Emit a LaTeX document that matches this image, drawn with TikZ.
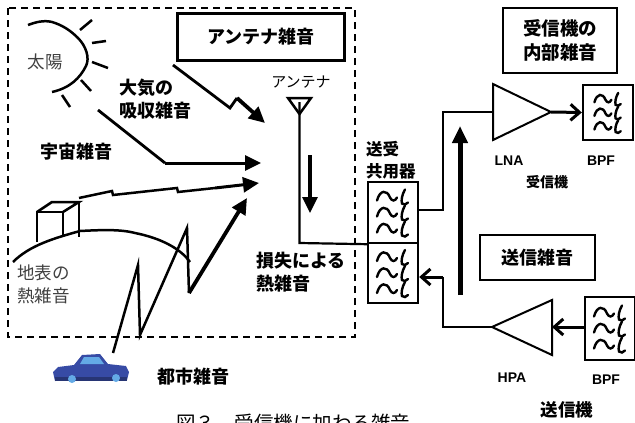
\documentclass[tikz,border=0pt]{standalone}
\usepackage{fontspec}
\setmainfont{Liberation Sans}
\newfontfamily\jp{Noto Sans CJK JP}
\usetikzlibrary{arrows.meta}

\definecolor{carblue}{RGB}{55,75,165}
\definecolor{carlight}{RGB}{100,170,230}

\tikzset{
  jpbold/.style={font=\jp\bfseries\fontsize{18}{23}\selectfont, inner sep=0pt, align=left},
  jpreg/.style={font=\jp\fontsize{17.5}{23}\selectfont, text=black!75, inner sep=0pt, align=left},
  latlabel/.style={font=\bfseries\fontsize{14}{16}\selectfont, inner sep=0pt},
  blockbox/.style={draw, line width=2.4pt, inner sep=0pt, align=center},
  filterbox/.style={draw, line width=2.4pt, inner sep=0pt, minimum width=50pt},
  noisearrow/.style={line width=3pt, -{Triangle[length=16pt,width=15pt]}},
  sigline/.style={line width=2.2pt},
  sigarrow/.style={line width=3pt, -{Straight Barb[length=9pt,width=16pt,line width=3pt]}},
  bpfglyph/.pic={
    \foreach \d in {-16,0,16}{
      \draw[line width=2.4pt, line cap=round]
        (-16,\d+4) .. controls (-13,\d-7) and (-6,\d-7) .. (-3,\d+1)
        .. controls (-1,\d+5) and (2,\d+5) .. (4,\d+1);
      \draw[line width=2.4pt, line cap=round]
        (12,\d-7) .. controls (9,\d-2) and (8,\d+4) .. (9,\d+7)
        .. controls (11,\d+9) and (13,\d+8) .. (15,\d+6);
    }
  }
}

\begin{document}
\begin{tikzpicture}[x=1pt,y=-1pt]
\clip (0,0) rectangle (635,423);

% antenna-side noise region
\draw[line width=2pt, dash pattern=on 7pt off 5pt] (8,8) rectangle (355,337);
\node[blockbox, minimum width=167pt, minimum height=47pt, font=\jp\bfseries\fontsize{18}{23}\selectfont]
  (antnoise) at (261,37) {アンテナ雑音};

% sun
\draw[line width=2.5pt] (28,25) .. controls (36,22) and (44,20) .. (52,22)
  .. controls (62,25) and (70,30) .. (78,38)
  .. controls (86,46) and (90,58) .. (86,66)
  .. controls (80,78) and (70,88) .. (52,92);
\foreach \a/\b in {{(80,30)}/{(92,20)}, {(92,43)}/{(106,41)}, {(92,62)}/{(108,68)}, {(81,80)}/{(91,91)}, {(62,95)}/{(70,107)}}
  \draw[line width=2.5pt] \a -- \b;
\node[jpreg] (sun) at (45,62) {太陽};

% noise labels
\node[jpbold, anchor=west] (atmos) at (119,99) {大気の\\吸収雑音};
\node[jpbold] (cosmic) at (76,152) {宇宙雑音};
\node[jpreg, anchor=west] (ground) at (17,284) {地表の\\熱雑音};
\node[jpbold] (urban) at (193,377) {都市雑音};
\node[jpbold, anchor=west] (loss) at (256,272) {損失による\\熱雑音};

% noise arrows
\coordinate (a1) at (173,65);  \coordinate (a2) at (230,108);
\coordinate (a3) at (237,98);  \coordinate (a4) at (265,123);
\draw[line width=2.8pt] (a1) -- (a2) -- (a3);
\draw[noisearrow, line width=3.8pt] (a3) -- (a4);

\coordinate (c1) at (98,110); \coordinate (c2) at (165,163); \coordinate (c3) at (261,163);
\draw[line width=2.8pt] (c1) -- (c2);
\draw[noisearrow] (c2) -- (c3);

% ground surface with a building
\draw[line width=2.5pt] (13,262) .. controls (30,245) and (55,238) .. (80,231)
  .. controls (100,230) and (120,229) .. (135,233)
  .. controls (160,238) and (180,248) .. (190,262);
\draw[line width=2.5pt] (37,242) -- (37,212) -- (63,212) -- (63,236);
\draw[line width=2.5pt] (37,212) -- (52,202) -- (79,202) -- (63,212);
\draw[line width=2.5pt] (79,202) -- (79,237);
\coordinate (g1) at (79,198); \coordinate (g2) at (112,191); \coordinate (g3) at (113,195);
\coordinate (g4) at (177,188); \coordinate (g5) at (178,192); \coordinate (g6) at (259,183);
\draw[line width=2.5pt] (g1) -- (g2) -- (g3) -- (g4) -- (g5) -- (215,188);
\draw[noisearrow] (215,188) -- (g6);

% urban noise from a car
\coordinate (u1) at (113,353); \coordinate (u2) at (138,265); \coordinate (u3) at (140,335);
\coordinate (u4) at (187,228); \coordinate (u5) at (189,293); \coordinate (u6) at (247,198);
\draw[line width=2.5pt] (u1) -- (u2) -- (u3) -- (u4) -- (u5);
\draw[noisearrow, line width=3.8pt] (u5) -- (u6);

\fill[carblue] (53,372) -- (58,367) -- (74,365) -- (82,355) -- (100,354) -- (108,364)
  -- (126,366) -- (129,372) -- (127,380) -- (55,381) -- cycle;
\fill[carlight] (84,357) -- (99,357) -- (104,364) -- (80,364) -- cycle;
\fill[carblue!70!black] (55,377) -- (127,377) -- (127,381) -- (55,381) -- cycle;
\fill[carlight] (72,379) circle (4);
\fill[carlight] (116,378) circle (4);

% antenna and feed line
\node[font=\jp\fontsize{15}{18}\selectfont, inner sep=0pt] (antlabel) at (301,82) {アンテナ};
\coordinate (antL) at (288,98); \coordinate (antR) at (311,98); \coordinate (antT) at (299.5,114);
\draw[line width=2.5pt, line join=miter] (antL) -- (antR) -- (antT) -- cycle;
\coordinate (feed) at (299.5,102);
\coordinate (feedbend) at (299.5,243);
\draw[noisearrow, line width=3.2pt] (310,155) -- (310,213);

% duplexer
\node[jpbold, font=\jp\bfseries\fontsize{16.5}{22}\selectfont, anchor=west] (duplabel) at (366,160) {送受\\共用器};
\node[filterbox, minimum height=61pt] (dupA) at (393,212.5) {};
\node[filterbox, minimum height=60pt] (dupB) at (393,273) {};
\pic at (dupA.center) {bpfglyph};
\pic at (dupB.center) {bpfglyph};
\draw[sigline] (feed) -- (feedbend) -- (dupA.south west);

% receiver
\node[blockbox, minimum width=114pt, minimum height=65pt, font=\jp\bfseries\fontsize{18.5}{24}\selectfont]
  (rxnoise) at (560,40.5) {受信機の\\内部雑音};
\coordinate (lnaIn) at (493,112);
\coordinate (lnaOut) at (551,112);
\draw[line width=2pt, line join=miter] (493,84) -- (lnaOut) -- (493,140) -- cycle;
\node[filterbox, minimum height=55pt] (rxbpf) at (608,112.5) {};
\pic[scale=0.85] at (rxbpf.center) {bpfglyph};
\draw[sigline] (dupA.east |- 0,210) -- (443,210) -- (443,112) -- (lnaIn);
\draw[sigarrow] (lnaOut) -- (rxbpf.west);
\node[latlabel] (lnalabel) at (509,161) {LNA};
\node[latlabel] (rxbpflabel) at (601,161) {BPF};
\node[jpbold, font=\jp\bfseries\fontsize{14}{18}\selectfont] (rxlabel) at (547,182) {受信機};

% transmit noise
\draw[line width=5pt, -{Triangle[length=17pt,width=15pt]}] (460,295) -- (460,126);
\node[blockbox, minimum width=115pt, minimum height=45pt, font=\jp\bfseries\fontsize{18}{23}\selectfont]
  (txnoise) at (537.5,257.5) {送信雑音};

% transmitter
\node[filterbox, minimum height=63pt] (txbpf) at (610,328.5) {};
\pic at (txbpf.center) {bpfglyph};
\coordinate (hpaIn) at (552,327);
\coordinate (hpaOut) at (492,327);
\draw[line width=2pt, line join=miter] (552,300) -- (hpaOut) -- (552,355) -- cycle;
\draw[sigarrow] (txbpf.west |- 0,327) -- (hpaIn);
\draw[sigline] (hpaOut) -- (443,327) -- (443,277);
\draw[sigarrow] (443,277) -- (dupB.east |- 0,277);
\node[latlabel] (hpalabel) at (512,378) {HPA};
\node[latlabel] (txbpflabel) at (606,380) {BPF};
\node[jpbold, font=\jp\bfseries\fontsize{17.5}{22}\selectfont] (txlabel) at (567,410) {送信機};

% caption
\node[font=\jp\fontsize{19.5}{24}\selectfont, anchor=base, inner sep=0pt] (caption) at (293,430) {図３　受信機に加わる雑音};
\end{tikzpicture}
\end{document}
